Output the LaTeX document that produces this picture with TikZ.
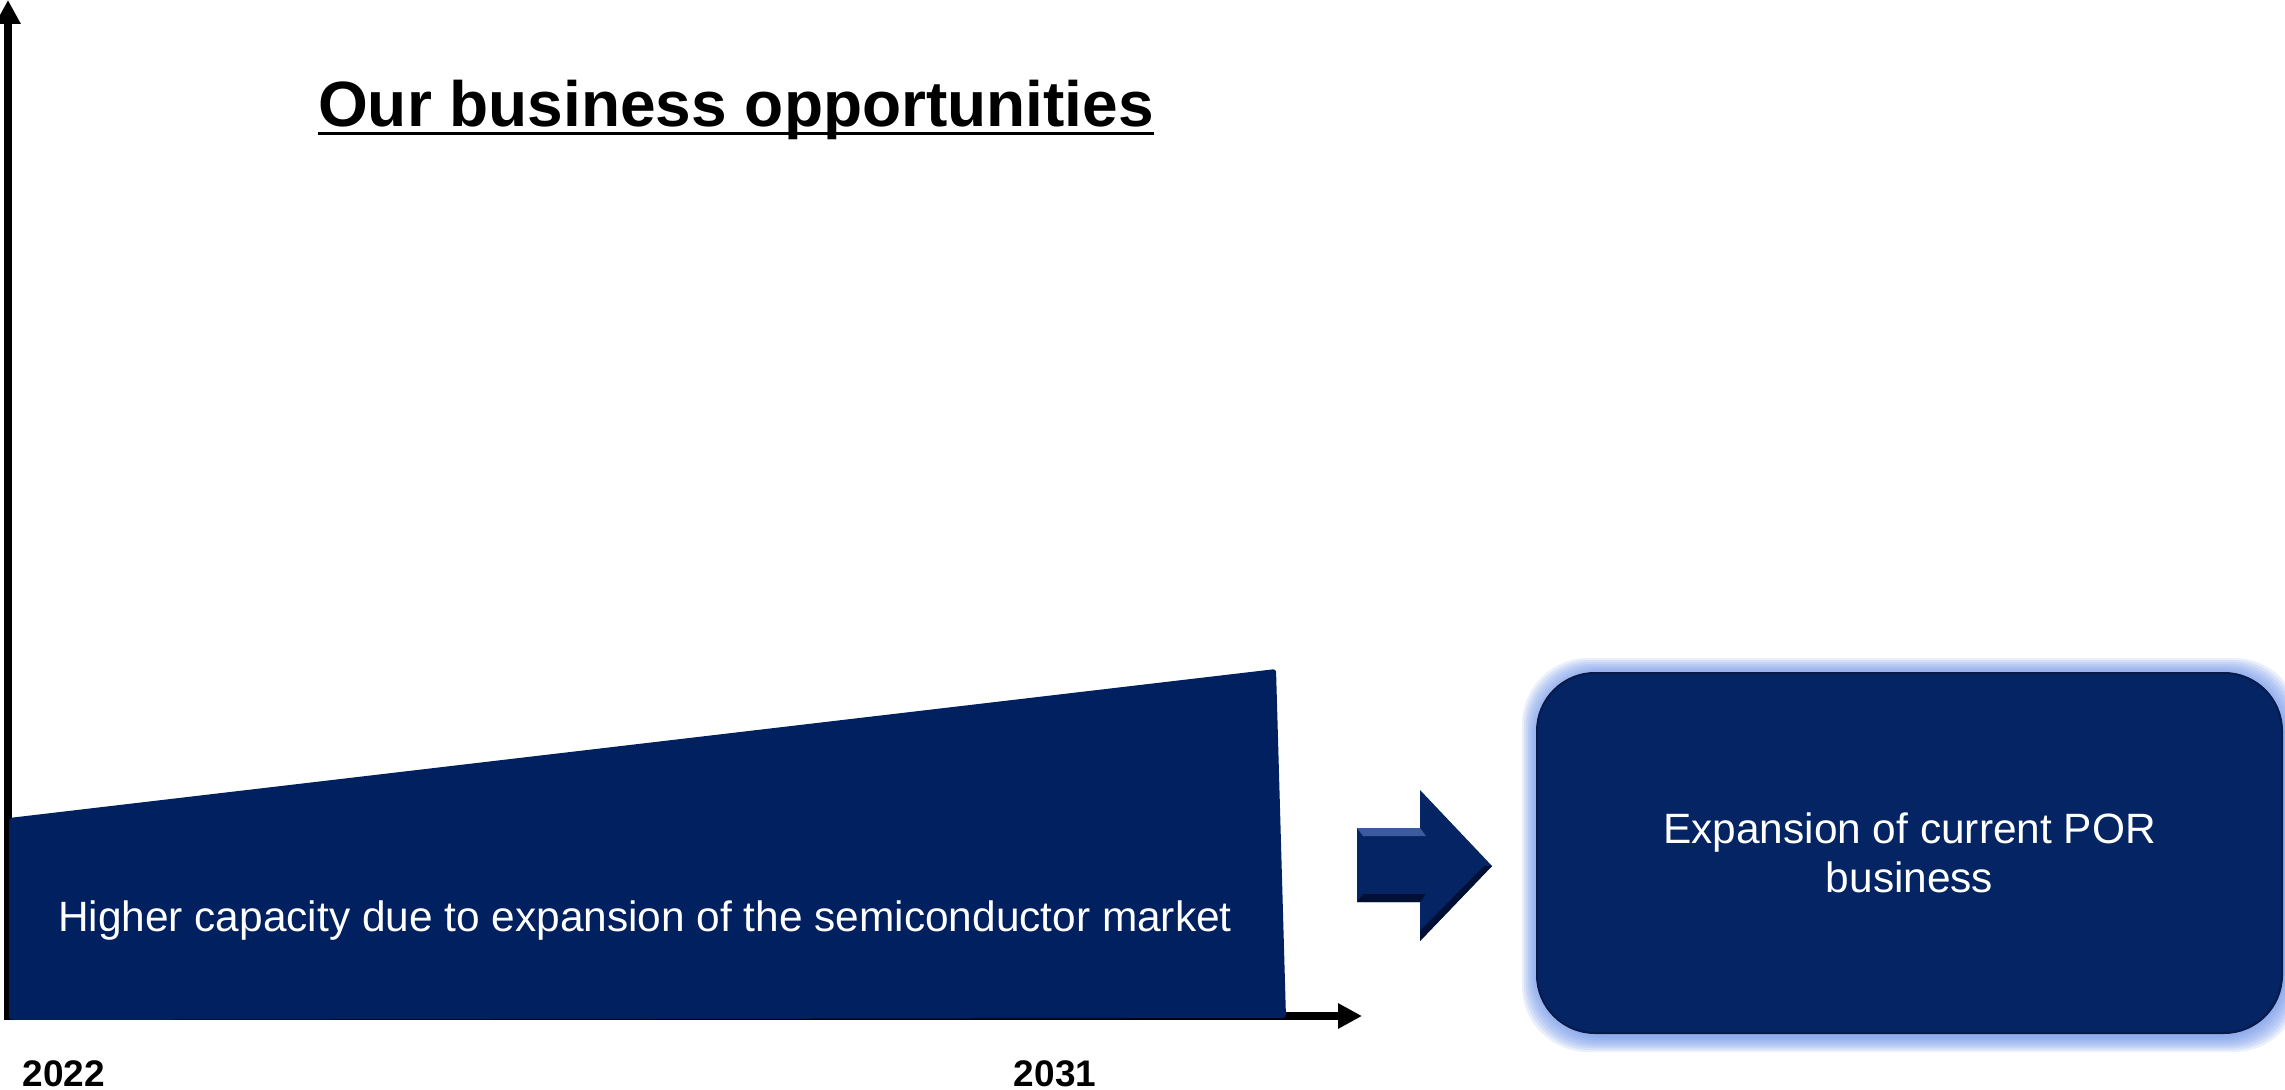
\documentclass[tikz,border=0pt]{standalone}
\usepackage{fontspec}
\setmainfont{Liberation Sans}
\usetikzlibrary{arrows.meta,backgrounds}

\definecolor{navy}{RGB}{0,32,96}
\definecolor{boxblue}{RGB}{4,36,100}
\definecolor{edgeblue}{RGB}{8,26,74}
\definecolor{glowblue}{RGB}{100,140,230}
\definecolor{bevellight}{RGB}{60,90,160}
\definecolor{beveldark}{RGB}{0,16,52}

\tikzstyle{axis} = [line width=4pt,-{Triangle[length=12pt,width=12pt]}]
\tikzstyle{heading} = [font=\bfseries\fontsize{32}{38}\selectfont,inner sep=0pt,anchor=base]
\tikzstyle{year} = [font=\bfseries\fontsize{18.5}{22}\selectfont,inner sep=0pt,anchor=base]
\tikzstyle{whitetext} = [text=white,font=\fontsize{21.2}{24.5}\selectfont,align=center]
\tikzstyle{porbox} = [rounded corners=29pt,fill=boxblue,draw=edgeblue,line width=1pt,
  minimum width=372.5pt,minimum height=180pt]

\begin{document}
\begin{tikzpicture}[x=0.5pt,y=-0.5pt]
		\useasboundingbox (0,0) rectangle (2285,1090);
		% axes
		\coordinate (o) at (8,1020);
		\coordinate (ytop) at (8,0);
		\coordinate (xend) at (1362,1016);
		\draw[axis] (o) -- (ytop);
		\draw[axis] (4,1016) -- (xend);
		% market area
		\fill[navy,rounded corners=1.5pt] (9,1020) -- (9,818) -- (1276,669) -- (1286,1018) -- cycle;
		\node[whitetext] (market) at (645,921) {Higher capacity due to expansion of the semiconductor market};
		\node[year] (y2022) at (64,1086) {2022};
		\node[year] (y2031) at (1055,1086) {2031};
		% title
		\node[heading] (title) at (736,127) {Our business opportunities};
		\draw[line width=1.5pt] ([yshift=-3.5pt]title.base west) -- ([yshift=-3.5pt]title.base east);
		% block arrow
		\fill[boxblue] (1357,828) -- (1420,828) -- (1420,790) -- (1492,866) -- (1420,941) -- (1420,902) -- (1357,902) -- cycle;
		\fill[bevellight] (1357,828) -- (1420,828) -- (1426,836) -- (1363,836) -- cycle;
		\fill[beveldark] (1363,894) -- (1426,894) -- (1420,902) -- (1357,902) -- cycle;
		\fill[beveldark] (1484,866) -- (1492,866) -- (1420,941) -- (1420,931) -- cycle;
		% POR box
		\node[porbox,whitetext] (por) at (1909.5,853) {Expansion of current POR\\business};
		\begin{scope}[on background layer]
		\foreach \g in {16,14,...,2}
			\fill[glowblue,opacity=0.14,rounded corners=33pt] ([shift={(-\g+2,-\g+2)}]por.north west) rectangle ([shift={(\g+1,\g+2)}]por.south east);
		\end{scope}
\end{tikzpicture}
\end{document}
